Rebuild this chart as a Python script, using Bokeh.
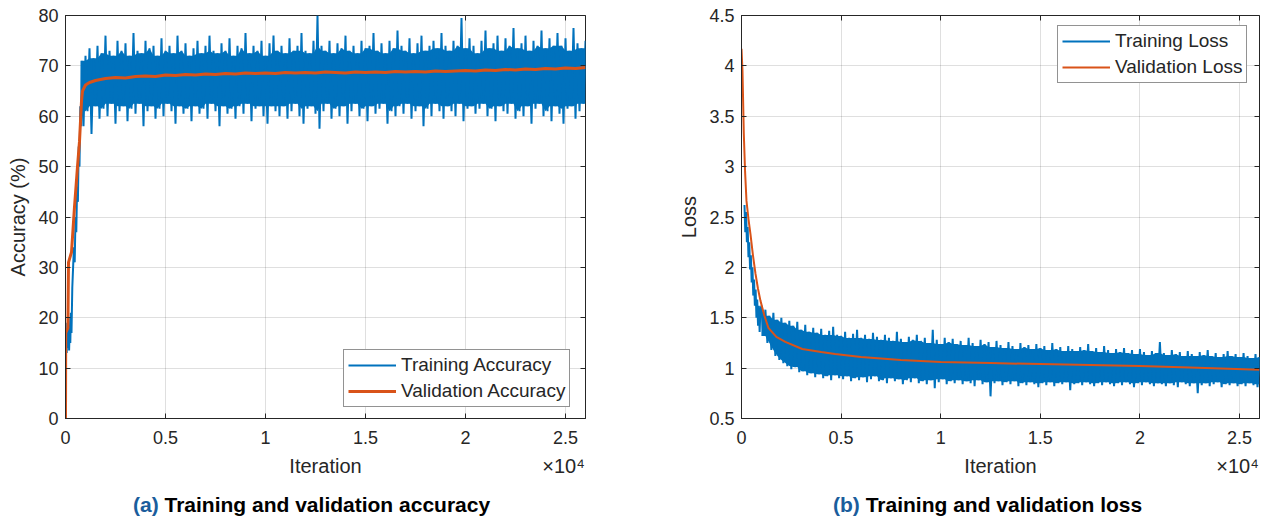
from bokeh.plotting import figure
from bokeh.models import Range1d, FixedTicker, LinearAxis, Legend, LegendItem, Div
from bokeh.layouts import row, column
from bokeh.embed import file_html
from bokeh.resources import INLINE

# ---------------- data: accuracy panel ----------------
acc_early_iter = [0, 30, 60, 90, 120, 150, 180, 210, 240, 270, 300, 340, 380, 420, 460, 500, 540, 580, 620, 660, 700, 740, 780]
acc_early = [12, 17, 13, 19, 14, 20, 13.5, 18, 15, 21, 17, 26, 30, 34, 31, 40, 37, 46, 43, 54, 50, 62, 58]

acc_peak_iter = list(range(800, 26001, 200))
acc_peaks = [71, 72, 73.5, 71.5, 74, 72.5, 76, 73, 72, 75,
             73, 74.5, 72, 76.5, 73, 72.5, 75, 73.5, 74, 72,
             75.5, 73, 74, 72.5, 76, 73, 74.5, 72, 73.5, 75,
             72.5, 74, 76, 73, 72.5, 74.5, 73, 75.5, 72, 74,
             73.5, 76.5, 72.5, 74, 73, 75, 72, 74.5, 76, 73,
             74, 72.5, 75.5, 73, 74, 76.5, 73, 72.5, 75, 80,
             74, 73, 75, 72.5, 74.5, 73.5, 76, 73, 74, 72.5,
             75, 73.5, 74, 76.5, 73, 74.5, 72.5, 75, 73.5, 77,
             74, 73, 75.5, 72.5, 74.5, 76, 73, 74, 75, 73.5,
             76.5, 74, 73, 75, 74, 79.5, 73.5, 75.5, 74, 72.5,
             75, 77, 73.5, 74.5, 76, 73, 75.5, 74, 77.5, 73.5,
             74.5, 76, 73, 75, 74, 77, 73.5, 75.5, 74, 76.5,
             74, 75.5, 73, 77.5, 74.5, 73.5, 75]
acc_trough_iter = list(range(900, 26101, 200))
acc_troughs = [58, 61, 56.5, 62, 59.5, 61.5, 60, 62.5, 58.5, 61,
               62, 59, 61.5, 60.5, 62.5, 58, 61, 62, 59.5, 61.5,
               60, 62.5, 61, 58.5, 62, 60.5, 61.5, 59, 62, 60.5,
               61.5, 59.5, 62.5, 61, 58, 62, 60.5, 61.5, 59.5, 62,
               60.5, 62.5, 59, 61.5, 62, 60, 58.5, 62, 61, 60,
               62, 59.5, 61, 62.5, 60, 58.5, 61.5, 62, 60.5, 57.5,
               61, 62.5, 59.5, 61.5, 60, 62, 58.5, 61, 62.5, 60,
               61.5, 59, 62, 60.5, 61.5, 62.5, 58.5, 61, 60, 62,
               60.5, 62.5, 59.5, 61, 62, 58, 61.5, 60, 62.5, 61,
               59.5, 62, 61, 60, 62.5, 59, 61.5, 62, 60.5, 61.5,
               62.5, 60, 61.5, 59, 62, 61, 60.5, 62.5, 59.5, 61,
               60, 62, 58.5, 61.5, 62.5, 60, 61, 59, 62, 60.5,
               58.5, 61.5, 62, 59.5, 61, 62.5, 60]

val_acc_iter = [0, 10, 120, 150, 300, 450, 600, 700, 800, 850, 1000, 1200, 1500, 2000, 2500, 3000,
                3500, 4000, 4500, 5000, 5500, 6000, 6500, 7000, 7500, 8000, 8500, 9000, 9500, 10000,
                10500, 11000, 11500, 12000, 12500, 13000, 13500, 14000, 14500, 15000, 15500, 16000,
                16500, 17000, 17500, 18000, 18500, 19000, 19500, 20000, 20500, 21000, 21500, 22000,
                22500, 23000, 23500, 24000, 24500, 25000, 25500, 26000]
val_acc = [0, 17, 18, 31, 33, 42, 50, 55, 63, 65, 66.2, 66.7, 67.1, 67.5, 67.7, 67.6,
           67.9, 68.0, 67.9, 68.2, 68.1, 68.3, 68.2, 68.4, 68.3, 68.5, 68.4, 68.6, 68.5, 68.6,
           68.5, 68.7, 68.6, 68.7, 68.6, 68.8, 68.7, 68.6, 68.8, 68.7, 68.8, 68.7,
           68.9, 68.8, 68.9, 68.8, 69.0, 68.9, 69.0, 69.1, 69.0, 69.2, 69.1, 69.3,
           69.2, 69.4, 69.3, 69.5, 69.4, 69.6, 69.5, 69.7]

# ---------------- data: loss panel ----------------
loss_early_iter = [150, 190, 230, 270, 310, 350, 390, 430, 470, 510, 550, 590, 630, 670, 710, 750, 790, 830, 870, 910, 950]
loss_early = [2.62, 2.35, 2.55, 2.25, 2.4, 2.1, 2.25, 1.98, 2.12, 1.85, 2.0, 1.72, 1.88, 1.62, 1.78, 1.5, 1.68, 1.42, 1.62, 1.36, 1.58]

loss_peak_iter = list(range(1000, 26001, 200))
loss_peaks = [1.62, 1.58, 1.52, 1.55, 1.48, 1.50, 1.45, 1.47, 1.42, 1.46,
              1.38, 1.43, 1.36, 1.40, 1.35, 1.39, 1.33, 1.37, 1.41, 1.33,
              1.32, 1.36, 1.30, 1.34, 1.38, 1.30, 1.33, 1.29, 1.35, 1.31,
              1.28, 1.33, 1.30, 1.27, 1.36, 1.29, 1.26, 1.31, 1.28, 1.33,
              1.27, 1.30, 1.25, 1.38, 1.28, 1.24, 1.30, 1.26, 1.29, 1.24,
              1.27, 1.23, 1.30, 1.25, 1.22, 1.28, 1.24, 1.26, 1.21, 1.27,
              1.23, 1.20, 1.26, 1.22, 1.19, 1.25, 1.21, 1.23, 1.19, 1.24,
              1.20, 1.22, 1.18, 1.25, 1.19, 1.21, 1.17, 1.22, 1.19, 1.17,
              1.21, 1.18, 1.24, 1.17, 1.20, 1.16, 1.22, 1.18, 1.15, 1.19,
              1.16, 1.20, 1.15, 1.18, 1.14, 1.19, 1.16, 1.13, 1.17, 1.15,
              1.26, 1.15, 1.13, 1.18, 1.14, 1.16, 1.12, 1.17, 1.14, 1.12,
              1.16, 1.13, 1.18, 1.12, 1.15, 1.11, 1.14, 1.17, 1.12, 1.14,
              1.11, 1.15, 1.12, 1.10, 1.14, 1.11]
loss_trough_iter = list(range(1100, 26101, 200))
loss_troughs = [1.32, 1.25, 1.18, 1.12, 1.08, 1.05, 1.02, 0.99, 1.01, 0.96,
                0.97, 0.93, 0.95, 0.91, 0.94, 0.90, 0.92, 0.88, 0.93, 0.90,
                0.89, 0.92, 0.87, 0.90, 0.88, 0.91, 0.86, 0.89, 0.92, 0.87,
                0.88, 0.85, 0.90, 0.87, 0.89, 0.84, 0.88, 0.86, 0.90, 0.85,
                0.87, 0.84, 0.88, 0.80, 0.86, 0.89, 0.84, 0.87, 0.85, 0.88,
                0.84, 0.87, 0.85, 0.82, 0.88, 0.84, 0.86, 0.72, 0.85, 0.87,
                0.83, 0.86, 0.84, 0.87, 0.82, 0.85, 0.83, 0.86, 0.84, 0.81,
                0.85, 0.83, 0.86, 0.82, 0.85, 0.84, 0.86, 0.78, 0.84, 0.85,
                0.83, 0.86, 0.84, 0.82, 0.85, 0.83, 0.86, 0.84, 0.82, 0.85,
                0.83, 0.86, 0.84, 0.81, 0.85, 0.83, 0.86, 0.84, 0.82, 0.85,
                0.84, 0.82, 0.85, 0.83, 0.81, 0.86, 0.84, 0.82, 0.85, 0.75,
                0.83, 0.85, 0.82, 0.84, 0.86, 0.81, 0.84, 0.83, 0.85, 0.82,
                0.84, 0.82, 0.85, 0.83, 0.81, 0.84]

val_loss_iter = [0, 50, 115, 180, 250, 350, 450, 575, 700, 825, 950, 1150, 1350, 1750, 2200, 3050,
                 4000, 4700, 6000, 8000, 10000, 12500, 15000, 17500, 20000, 22500, 26000]
val_loss = [4.17, 3.95, 3.33, 2.95, 2.66, 2.48, 2.33, 2.12, 1.94, 1.79, 1.67, 1.52, 1.40, 1.31, 1.26, 1.19,
            1.16, 1.14, 1.11, 1.08, 1.06, 1.05, 1.04, 1.03, 1.02, 1.005, 0.985]

x_ticks = [0, 5000, 10000, 15000, 20000, 25000]
x_tick_labels = ["0", "0.5", "1", "1.5", "2", "2.5"]
acc_ticks = [0, 10, 20, 30, 40, 50, 60, 70, 80]
loss_ticks = [0.5, 1, 1.5, 2, 2.5, 3, 3.5, 4, 4.5]
loss_tick_labels = ["0.5", "1", "1.5", "2", "2.5", "3", "3.5", "4", "4.5"]
x_title = "Iteration"
x_multiplier = "×10⁴"
# where the axis title and the exponent sit along the x axis (iterations)
x_title_at = [13000, 24900]

BLUE = "#0072BD"
ORANGE = "#D95319"
DARK = "#262626"
FONT = "Liberation Sans"


def zigzag(early_x, early_y, px, py, tx, ty):
    xs, ys = list(early_x), list(early_y)
    for a, b, c, d in zip(px, py, tx, ty):
        xs += [a, c]
        ys += [b, d]
    return xs, ys


def core(vals, fn):
    # dense centre of the noisy band: tightest neighbouring extreme
    return [fn(vals[max(0, i - 1):i + 2]) for i in range(len(vals))]


def style(p, yticks, ylabels, ylabel):
    p.background_fill_color = "white"
    p.border_fill_color = "white"
    p.outline_line_color = DARK
    p.outline_line_width = 1
    for ax in p.xaxis:
        ax.ticker = FixedTicker(ticks=x_ticks)
        ax.major_label_overrides = {t: l for t, l in zip(x_ticks, x_tick_labels)}
    for ax in p.yaxis:
        ax.ticker = FixedTicker(ticks=yticks)
        ax.major_label_overrides = {t: l for t, l in zip(yticks, ylabels)}
    for ax in p.axis:
        ax.major_tick_in = 5
        ax.major_tick_out = 0
        ax.minor_tick_line_color = None
        ax.axis_line_color = DARK
        ax.major_tick_line_color = DARK
        ax.major_label_text_font = FONT
        ax.major_label_text_font_size = "18px"
        ax.major_label_text_color = DARK
        ax.axis_label_text_font = FONT
        ax.axis_label_text_font_size = "20px"
        ax.axis_label_text_font_style = "normal"
        ax.axis_label_text_color = DARK
    p.xaxis[0].major_label_standoff = 12
    p.yaxis[0].axis_label = ylabel
    p.yaxis[0].major_label_standoff = 7
    p.yaxis[0].axis_label_standoff = 6
    p.xgrid.ticker = FixedTicker(ticks=x_ticks)
    p.ygrid.ticker = FixedTicker(ticks=yticks)
    for g in (p.xgrid, p.ygrid):
        g.grid_line_color = DARK
        g.grid_line_alpha = 0.15
    # x-axis title and exponent on one line below the tick labels
    xt = LinearAxis(ticker=FixedTicker(ticks=x_title_at),
                    major_label_overrides={x_title_at[0]: x_title, x_title_at[1]: x_multiplier},
                    major_tick_line_color=None, minor_tick_line_color=None, axis_line_color=None,
                    major_tick_in=0, major_tick_out=0, major_label_standoff=8,
                    major_label_text_font=FONT, major_label_text_font_size="20px",
                    major_label_text_color=DARK)
    p.add_layout(xt, "below")
    # box ticks on top and right (no labels drawn)
    top = LinearAxis(ticker=FixedTicker(ticks=x_ticks), major_label_text_color=None,
                     major_label_text_font_size="1px",
                     major_tick_in=5, major_tick_out=0, minor_tick_line_color=None,
                     axis_line_color=None, major_tick_line_color=DARK, major_label_standoff=0)
    right = LinearAxis(ticker=FixedTicker(ticks=yticks), major_label_text_color=None,
                       major_label_text_font_size="1px",
                       major_tick_in=5, major_tick_out=0, minor_tick_line_color=None,
                       axis_line_color=None, major_tick_line_color=DARK, major_label_standoff=0)
    p.add_layout(top, "above")
    p.add_layout(right, "right")


def legend(p, items, loc):
    lg = Legend(items=items, location=loc, padding=4, spacing=4,
                glyph_width=48, glyph_height=20, label_standoff=5,
                label_text_font=FONT, label_text_font_size="19px", label_text_color=DARK,
                border_line_color=DARK, border_line_width=1, background_fill_color="white",
                background_fill_alpha=1.0)
    p.add_layout(lg)


# ---------------- accuracy figure ----------------
p1 = figure(width=675, height=482, x_range=Range1d(0, 26000), y_range=Range1d(0, 80),
            output_backend="svg", toolbar_location=None,
            min_border_left=65, min_border_right=90, min_border_top=15, min_border_bottom=64)
p1.varea(x=acc_peak_iter, y1=core(acc_troughs, max), y2=core(acc_peaks, min), fill_color=BLUE)
ax_x, ax_y = zigzag(acc_early_iter, acc_early, acc_peak_iter, acc_peaks, acc_trough_iter, acc_troughs)
r_tr = p1.line(ax_x, ax_y, line_color=BLUE, line_width=2)
r_va = p1.line(val_acc_iter, val_acc, line_color=ORANGE, line_width=3)
style(p1, acc_ticks, [str(t) for t in acc_ticks], "Accuracy (%)")
legend(p1, [LegendItem(label="Training Accuracy", renderers=[r_tr]),
            LegendItem(label="Validation Accuracy", renderers=[r_va])], (278, 11))

# ---------------- loss figure ----------------
p2 = figure(width=586, height=482, x_range=Range1d(0, 26000), y_range=Range1d(0.5, 4.5),
            output_backend="svg", toolbar_location=None,
            min_border_left=66, min_border_right=2, min_border_top=15, min_border_bottom=64)
p2.varea(x=loss_peak_iter, y1=core(loss_troughs, max), y2=core(loss_peaks, min), fill_color=BLUE)
lx, ly = zigzag(loss_early_iter, loss_early, loss_peak_iter, loss_peaks, loss_trough_iter, loss_troughs)
r_tl = p2.line(lx, ly, line_color=BLUE, line_width=2)
r_vl = p2.line(val_loss_iter, val_loss, line_color=ORANGE, line_width=2)
style(p2, loss_ticks, loss_tick_labels, "Loss")
legend(p2, [LegendItem(label="Training Loss", renderers=[r_tl]),
            LegendItem(label="Validation Loss", renderers=[r_vl])], (316, 335))

cap_style = ("font-family:'Liberation Sans';font-weight:bold;font-size:21px;color:#000;"
             "white-space:nowrap;position:absolute;top:8px;")
captions = Div(
    text=(f'<div style="position:relative;width:1261px;height:34px;">'
          f'<span style="{cap_style}left:133px;"><span style="color:#1a5d9c;">(a)</span> Training and validation accuracy</span>'
          f'<span style="{cap_style}left:833px;"><span style="color:#1a5d9c;">(b)</span> Training and validation loss</span>'
          f'</div>'),
    width=1261, height=34, margin=(0, 0, 0, 0))

layout = column(row(p1, p2, spacing=0), captions, spacing=0)
open("out.html", "w").write(file_html(layout, INLINE))
